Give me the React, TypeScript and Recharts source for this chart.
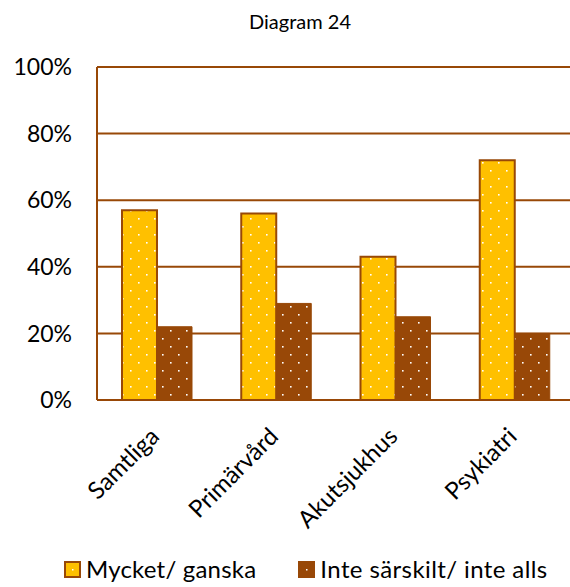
import React from 'react';
import { BarChart, Bar, XAxis, YAxis, CartesianGrid, Legend } from 'recharts';

const categories = ['Samtliga', 'Primärvård', 'Akutsjukhus', 'Psykiatri'];
const mycketGanska = [57, 56, 43, 72];
const inteAlls = [22, 29, 25, 20];
const yTicks = [0, 20, 40, 60, 80, 100];
const seriesNames = ['Mycket/ ganska', 'Inte särskilt/ inte alls'];

const data = categories.map((name, i) => ({
  name,
  mycket: mycketGanska[i],
  inte: inteAlls[i],
}));

const BROWN = '#984807';
const YELLOW = '#FFC000';
const FONT = 'Lato, "Open Sans", sans-serif';

function CategoryTick(props: any) {
  const { x, y, payload } = props;
  return (
    <text
      transform={`translate(${x + 4}, ${y + 30}) rotate(-45)`}
      textAnchor="end"
      fontSize={24}
      fontFamily={FONT}
      fill="#000"
    >
      {payload.value}
    </text>
  );
}

function LegendContent() {
  const items = [
    { label: seriesNames[0], fill: YELLOW },
    { label: seriesNames[1], fill: BROWN },
  ];
  return (
    <div style={{ display: 'flex', fontFamily: FONT, fontSize: 24, color: '#000', lineHeight: '28px' }}>
      {items.map((it, i) => (
        <div key={it.label} style={{ display: 'flex', alignItems: 'center', marginRight: i === 0 ? 42 : 0 }}>
          <svg width={17} height={17} style={{ marginRight: 5 }}>
            <rect x={1} y={1} width={15} height={15} fill={it.fill} stroke={BROWN} strokeWidth={2} />
            <rect x={8} y={8} width={1.5} height={1.5} fill="#fff" />
          </svg>
          <span style={{ letterSpacing: i === 1 ? 0.4 : 0.2 }}>{it.label}</span>
        </div>
      ))}
    </div>
  );
}

export default function App() {
  return (
    <div style={{ position: 'absolute', left: 0, top: 0, width: 570, height: 587, overflow: 'hidden', background: '#fff' }}>
      <div
        style={{
          position: 'absolute',
          top: 8,
          left: 0,
          width: 600,
          textAlign: 'center',
          fontFamily: FONT,
          fontSize: 20,
          lineHeight: '26px',
        }}
      >
        Diagram 24
      </div>
      <BarChart
        width={580}
        height={587}
        data={data}
        margin={{ top: 67, right: 6, bottom: 59, left: 0 }}
        barGap={0}
        barSize={35}
      >
        <defs>
          <pattern id="dotsYellow" patternUnits="userSpaceOnUse" width={16} height={16}>
            <rect width={16} height={16} fill={YELLOW} />
            <rect x={2} y={2} width={1.6} height={1.6} fill="#fff" />
            <rect x={10} y={10} width={1.6} height={1.6} fill="#fff" />
          </pattern>
          <pattern id="dotsBrown" patternUnits="userSpaceOnUse" width={16} height={16}>
            <rect width={16} height={16} fill={BROWN} />
            <rect x={2} y={2} width={1.6} height={1.6} fill="#fff" />
            <rect x={10} y={10} width={1.6} height={1.6} fill="#fff" />
          </pattern>
        </defs>
        <CartesianGrid vertical={false} stroke={BROWN} strokeWidth={2} />
        <XAxis
          dataKey="name"
          height={100}
          tickLine={false}
          axisLine={{ stroke: BROWN, strokeWidth: 2 }}
          tick={<CategoryTick />}
          interval={0}
        />
        <YAxis
          width={97}
          domain={[0, 100]}
          ticks={yTicks}
          tickFormatter={(v: number) => `${v}%`}
          tickLine={false}
          axisLine={{ stroke: BROWN, strokeWidth: 2 }}
          tickMargin={19}
          tick={{ fontSize: 23, fontFamily: FONT, fill: '#000' }}
        />
        <Legend
          content={<LegendContent />}
          wrapperStyle={{ position: 'absolute', left: 64, top: 555, width: 'auto' }}
        />
        <Bar
          dataKey="mycket"
          name={seriesNames[0]}
          fill="url(#dotsYellow)"
          stroke={BROWN}
          strokeWidth={2}
          isAnimationActive={false}
        />
        <Bar
          dataKey="inte"
          name={seriesNames[1]}
          fill="url(#dotsBrown)"
          stroke={BROWN}
          strokeWidth={1}
          isAnimationActive={false}
        />
      </BarChart>
    </div>
  );
}
